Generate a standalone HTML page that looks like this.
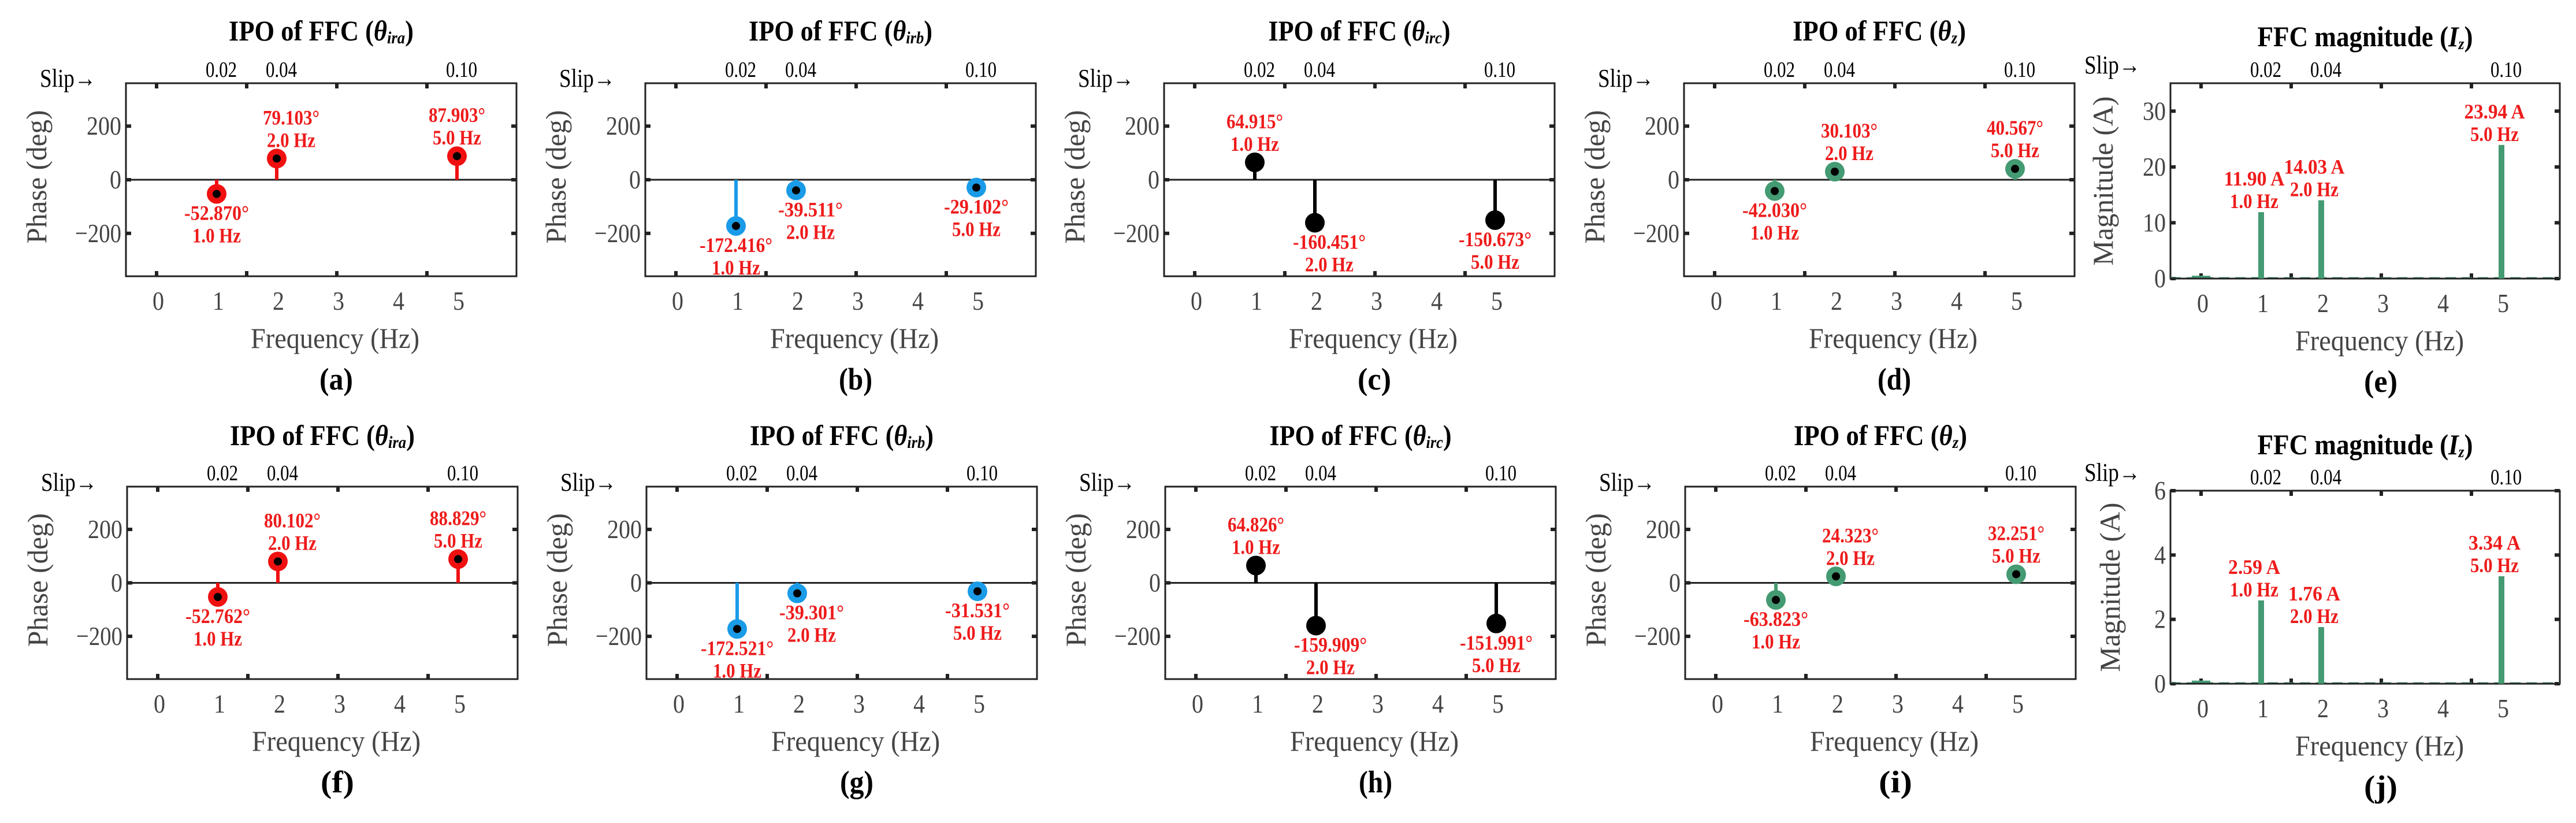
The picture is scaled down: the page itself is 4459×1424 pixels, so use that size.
<!DOCTYPE html>
<html><head><meta charset="utf-8">
<style>
html,body{margin:0;padding:0;background:#fff;overflow:hidden;}
svg{display:block;}
</style></head>
<body>
<svg id="fig" width="4459" height="1424" viewBox="0 0 4459 1424" xmlns="http://www.w3.org/2000/svg"></svg>
<script>
// ---- data ----
const freqs = [1, 2, 5];
const slipLabels = ["0.02", "0.04", "0.10"];
const xTickLabels = ["0", "1", "2", "3", "4", "5"];
const phaseTickLabels = ["200", "0", "\u2212200"];
const phaseTickValues = [200, 0, -200];
const phaseA1 = [-52.870, 79.103, 87.903];
const phaseB1 = [-172.416, -39.511, -29.102];
const phaseC1 = [64.915, -160.451, -150.673];
const phaseD1 = [-42.030, 30.103, 40.567];
const magE = [11.90, 14.03, 23.94];
const magE0 = 0.3;
const phaseA2 = [-52.762, 80.102, 88.829];
const phaseB2 = [-172.521, -39.301, -31.531];
const phaseC2 = [64.826, -159.909, -151.991];
const phaseD2 = [-63.823, 24.323, 32.251];
const magJ = [2.59, 1.76, 3.34];
const magJ0 = 0.06;
const magTicksE = [0, 10, 20, 30];
const magTicksJ = [0, 2, 4, 6];

const NS = "http://www.w3.org/2000/svg";
const svg = document.getElementById("fig");
function el(tag, attrs, parent) {
  const e = document.createElementNS(NS, tag);
  for (const k in attrs) e.setAttribute(k, attrs[k]);
  (parent || svg).appendChild(e);
  return e;
}
function txt(x, y, s, size, opt, parent) {
  opt = opt || {};
  const e = el("text", {x: x, y: y, "font-size": size, "font-family": "Liberation Serif, serif",
    "text-anchor": opt.anchor || "middle", fill: opt.fill || "#000", "font-weight": opt.weight || "normal"}, parent);
  if (opt.len) { e.setAttribute("textLength", opt.len); e.setAttribute("lengthAdjust", "spacingAndGlyphs"); }
  if (opt.rot) e.setAttribute("transform", "rotate(-90 " + x + " " + y + ")");
  e.textContent = s;
  return e;
}

function panel(cfg) {
  const g = el("g", {});
  
  
  const L = cfg.left, T = cfg.top, B = cfg.bottom, W = cfg.width, R = L + W;
  const xs = f => L + 53 + 104 * f;
  const ys = v => B - (v - cfg.ymin) / (cfg.ymax - cfg.ymin) * (B - T);
  const tt = txt(L + W / 2, cfg.titleY, "", 50, {weight: "bold", len: cfg.titleLen}, g);
  
  
  if (cfg.mag) {
    tt.innerHTML = 'FFC magnitude (<tspan font-style="italic">I</tspan><tspan font-style="italic" font-size="28" dy="5">z</tspan><tspan dy="-5">)</tspan>';
  } else {
    tt.innerHTML = 'IPO of FFC (<tspan font-style="italic">\u03b8</tspan><tspan font-style="italic" font-size="30" dy="5">' + cfg.sub + '</tspan><tspan dy="-5">)</tspan>';
  }
  const sl = txt(L - 149, cfg.slipY, "Slip\u2192", 44, {anchor: "start", len: 97}, g);
  
  
  freqs.forEach((f, i) => {
    const s = txt(xs(f) + 8, T - 11, slipLabels[i], 38, {len: 54}, g);
    
    
  });
  const fr = el("rect", {x: L, y: T, width: W, height: B - T, fill: "none", stroke: "#222", "stroke-width": 3}, g);
  
  
  [0, 1.5, 3, 4.5].forEach(f => {
    el("line", {x1: xs(f), x2: xs(f), y1: T, y2: T + 9, stroke: "#222", "stroke-width": 6}, g);
    el("line", {x1: xs(f), x2: xs(f), y1: B, y2: B - 9, stroke: "#222", "stroke-width": 6}, g);
  });
  xTickLabels.forEach((s, i) => {
    const t = txt(xs(i) + 3, B + 58, s, 46, {fill: "#444", len: 20}, g);
    
    
  });
  const tv = cfg.mag ? cfg.magTicks : phaseTickValues;
  tv.forEach((v, i) => {
    el("line", {x1: L, x2: L + 9, y1: ys(v), y2: ys(v), stroke: "#222", "stroke-width": 6}, g);
    el("line", {x1: R, x2: R - 9, y1: ys(v), y2: ys(v), stroke: "#222", "stroke-width": 6}, g);
    const s = cfg.mag ? String(v) : phaseTickLabels[i];
    const t = txt(L - 8, ys(v) + 15, s, 46, {anchor: "end", fill: "#444", len: s.length * 20}, g);
    
    
  });
  const xl = txt(L + 362, B + 124, "Frequency (Hz)", 50, {fill: "#444", len: 292}, g);
  
  
  const ylab = cfg.mag ? "Magnitude (A)" : "Phase (deg)";
  const yl = txt(L - cfg.ylabOff, (T + B) / 2 + (cfg.mag ? 0 : -5), ylab, 50, {fill: "#444", len: cfg.mag ? 293 : 231, rot: true}, g);
  
  
  const pl = txt(L + 364, B + 196, "(" + cfg.letter + ")", 54, {weight: "bold", len: 58}, g);
  
  

  if (cfg.mag) {
    const dl = el("line", {x1: L, x2: R, y1: ys(0) - 1, y2: ys(0) - 1, stroke: "#449a72", "stroke-width": 3, "stroke-dasharray": "18 10"}, g);
    
    
    const b0 = el("rect", {x: xs(0) - 16, y: ys(cfg.v0) - 2, width: 32, height: ys(0) - ys(cfg.v0) + 2, fill: "#449a72"}, g);
    
    
    el("line", {x1: L, x2: R, y1: B, y2: B, stroke: "#222", "stroke-width": 3}, g);
    freqs.forEach((f, i) => {
      const v = cfg.values[i];
      const b = el("rect", {x: xs(f) - 5, y: ys(v), width: 10, height: ys(0) - ys(v), fill: "#449a72"}, g);
      
      
      const a1 = txt(xs(f) - 12, ys(v) - 46, v.toFixed(2) + " A", 36, {weight: "bold", fill: "#ee1b1b", len: (v.toFixed(2).length + 2) * 15}, g);
      
      
      const a2 = txt(xs(f) - 12, ys(v) - 7, f.toFixed(1) + " Hz", 36, {weight: "bold", fill: "#ee1b1b", len: 84}, g);
      
      
    });
  } else {
    const zl = el("line", {x1: L, x2: R, y1: ys(0), y2: ys(0), stroke: "#222", "stroke-width": 3}, g);
    
    
    freqs.forEach((f, i) => {
      const v = cfg.values[i];
      const x = xs(f), y = ys(v);
      const st = el("line", {x1: x, x2: x, y1: ys(0), y2: y, stroke: cfg.color, "stroke-width": 6}, g);
      
      
      const m = el("circle", {cx: x, cy: y, r: 17, fill: cfg.color}, g);
      
      
      const d = el("circle", {cx: x, cy: y, r: 7, fill: "#000"}, g);
      
      
      const s = v.toFixed(3) + "\u00b0";
      const dx = f === 2 ? 25 : 0;
      const y1 = v >= 0 ? y - 59 : y + 45;
      const a1 = txt(x + dx, y1, s, 36, {weight: "bold", fill: "#ee1b1b", len: s.length * 14}, g);
      
      
      const a2 = txt(x + dx, y1 + 39, f.toFixed(1) + " Hz", 36, {weight: "bold", fill: "#ee1b1b", len: 84}, g);
      
      
    });
  }
}

const lefts = [218, 1117, 2015, 2915];
const phaseSets1 = [phaseA1, phaseB1, phaseC1, phaseD1];
const phaseSets2 = [phaseA2, phaseB2, phaseC2, phaseD2];
const subs = ["ira", "irb", "irc", "z"];
const colors = ["#f01010", "#1a9be8", "#000000", "#449a72"];
const titleLens = [320, 318, 315, 300];
const letters1 = ["a", "b", "c", "d"], letters2 = ["f", "g", "h", "i"];
for (let k = 0; k < 4; k++) {
  panel({left: lefts[k], top: 144, bottom: 478, width: 676, ymin: -360, ymax: 360, values: phaseSets1[k],
    color: colors[k], sub: subs[k], letter: letters1[k], titleY: 70, slipY: 150, titleLen: titleLens[k], ylabOff: 138});
  panel({left: lefts[k] + 2, top: 842, bottom: 1175, width: 676, ymin: -360, ymax: 360, values: phaseSets2[k],
    color: colors[k], sub: subs[k], letter: letters2[k], titleY: 770, slipY: 849, titleLen: titleLens[k], ylabOff: 138});
}
panel({mag: true, left: 3757, top: 144, bottom: 482, width: 674, ymin: 0, ymax: 35, values: magE, v0: magE0,
  magTicks: magTicksE, letter: "e", titleY: 80, slipY: 127, titleLen: 373, ylabOff: 100});
panel({mag: true, left: 3757, top: 849, bottom: 1183, width: 674, ymin: 0, ymax: 6, values: magJ, v0: magJ0,
  magTicks: magTicksJ, letter: "j", titleY: 786, slipY: 832, titleLen: 373, ylabOff: 88});
</script>
</body></html>
